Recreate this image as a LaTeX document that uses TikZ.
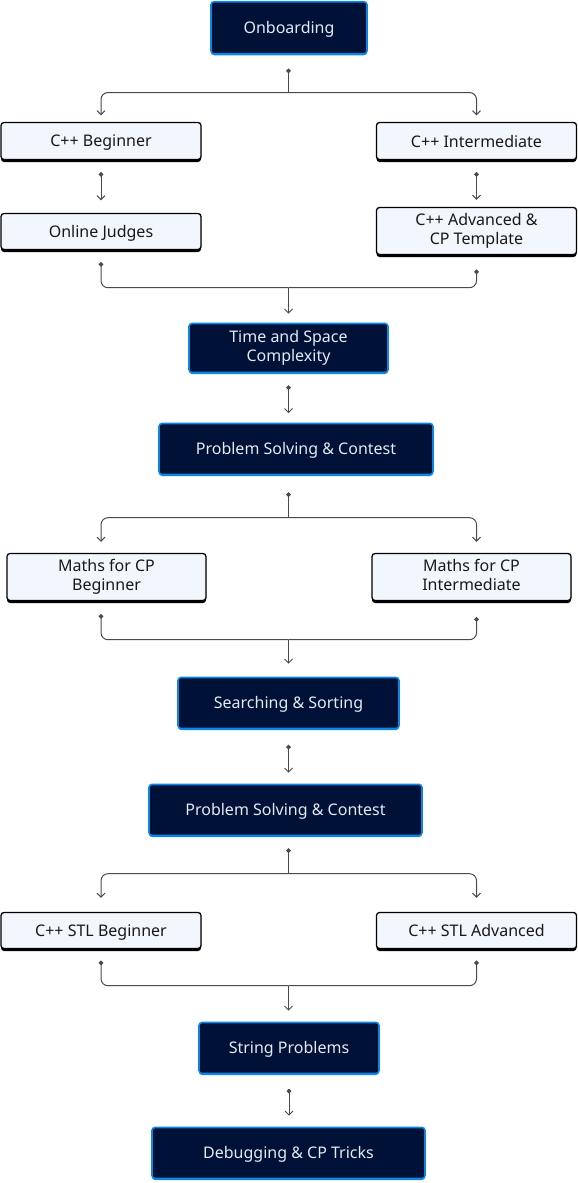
\documentclass[tikz,border=0pt]{standalone}
\usepackage{fontspec}
\setmainfont{Noto Sans}
\usetikzlibrary{arrows.meta,shadows}
\definecolor{navy}{HTML}{001137}
\definecolor{edgeblue}{HTML}{0A86E6}
\definecolor{pale}{HTML}{F2F6FD}
\definecolor{wire}{HTML}{4A4A4A}
\definecolor{paletext}{HTML}{E4E9F2}
\newcommand{\boxstrut}{\rule[-3.5pt]{0pt}{19pt}}

\begin{document}
\begin{tikzpicture}[x=1pt, y=-1pt, font=\fontsize{16}{19}\selectfont,
  every node/.style={execute at begin node=\boxstrut, execute at end node=\boxstrut},
  dark/.style={draw=edgeblue, line width=1.6pt, fill=navy, text=paletext,
    rounded corners=3pt, align=center, inner sep=0pt,
    drop shadow={shadow xshift=0pt, shadow yshift=-1.5pt, fill=edgeblue, opacity=1}},
  light/.style={draw=black, line width=1.3pt, fill=pale, text=black!90,
    rounded corners=3pt, align=center, inner sep=0pt,
    minimum width=200pt,
    drop shadow={shadow xshift=0pt, shadow yshift=-2.5pt, fill=black, opacity=1}},
  feed/.style={draw=wire, line width=1pt, rounded corners=7pt, {Circle[length=4.5pt]}-},
  lead/.style={draw=wire, line width=1pt, rounded corners=7pt, -{Straight Barb[length=4pt,width=8pt]}},
  link/.style={draw=wire, line width=1pt, {Circle[length=4.5pt]}-{Straight Barb[length=4pt,width=8pt]}}]
\useasboundingbox (0,0) rectangle (578,1183);

\coordinate (lcol) at (101,0);
\coordinate (rcol) at (476.5,0);

\node[dark, minimum width=156pt, minimum height=52pt] (onb) at (289,27.75) {Onboarding};
\node[light, minimum height=37pt] (cppb) at (101,141) {C++ Beginner};
\node[light, minimum height=37pt] (cppi) at (476.5,141) {C++ Intermediate};
\node[light, minimum height=36pt] (oj) at (101,231.5) {Online Judges};
\node[light, minimum height=47pt] (cppa) at (476.5,231) {C++ Advanced \&\\CP Template};
\node[dark, minimum width=199pt, minimum height=49pt] (tsc) at (288.5,348) {Time and Space\\Complexity};
\node[dark, minimum width=274pt, minimum height=51pt] (ps1) at (296,449) {Problem Solving \& Contest};
\node[light, minimum width=199pt, minimum height=47pt] (mb) at (106.5,577) {Maths for CP\\Beginner};
\node[light, minimum width=199pt, minimum height=47pt] (mi) at (471.5,577) {Maths for CP\\Intermediate};
\node[dark, minimum width=221pt, minimum height=51pt] (ss) at (288.5,703) {Searching \& Sorting};
\node[dark, minimum width=273pt, minimum height=51pt] (ps2) at (285.5,810) {Problem Solving \& Contest};
\node[light, minimum height=36pt] (stlb) at (101,930.5) {C++ STL Beginner};
\node[light, minimum height=36pt] (stla) at (476.5,930.5) {C++ STL Advanced};
\node[dark, minimum width=180pt, minimum height=51pt] (sp) at (289,1048) {String Problems};
\node[dark, minimum width=273pt, minimum height=51pt] (dbg) at (288.5,1153) {Debugging \& CP Tricks};

\coordinate (s1) at (288.5,92.5);
\coordinate (m1) at (288.5,287.7);
\coordinate (s2) at (288.5,517.7);
\coordinate (m2) at (288.5,639.7);
\coordinate (s3) at (288.5,873.7);
\coordinate (m3) at (288.5,985.7);

\draw[feed, shorten <=14pt] (onb.south -| s1) -- (s1);
\draw[lead, shorten >=6.5pt] (s1) -| (cppb.north);
\draw[lead, shorten >=6.5pt] (s1) -| (cppi.north);
\draw[link, shorten <=12pt, shorten >=12.5pt] (cppb.south) -- (oj.north);
\draw[link, shorten <=12pt, shorten >=7pt] (cppi.south) -- (cppa.north);

\draw[feed, shorten <=12pt] (oj.south) |- (m1);
\draw[feed, shorten <=14.5pt] (cppa.south) |- (m1);
\draw[lead, shorten >=9pt] (m1) -- (tsc.north);
\draw[link, shorten <=12pt, shorten >=9.5pt] (tsc.south) -- (tsc.south |- ps1.north);

\draw[feed, shorten <=17pt] (ps1.south -| s2) -- (s2);
\draw[lead, shorten >=11pt] (s2) -| (lcol |- mb.north);
\draw[lead, shorten >=11pt] (s2) -| (rcol |- mi.north);
\draw[feed, shorten <=13pt] (mb.south -| lcol) |- (m2);
\draw[feed, shorten <=16pt] (mi.south -| rcol) |- (m2);
\draw[lead, shorten >=13pt] (m2) -- (m2 |- ss.north);
\draw[link, shorten <=15.5pt, shorten >=11pt] (ss.south) -- (ss.south |- ps2.north);

\draw[feed, shorten <=12pt] (ps2.south -| s3) -- (s3);
\draw[lead, shorten >=14pt] (s3) -| (stlb.north);
\draw[lead, shorten >=14pt] (s3) -| (stla.north);
\draw[feed, shorten <=11.5pt] (stlb.south) |- (m3);
\draw[feed, shorten <=11.5pt] (stla.south) |- (m3);
\draw[lead, shorten >=11pt] (m3) -- (m3 |- sp.north);
\draw[link, shorten <=14.5pt, shorten >=11pt] (sp.south) -- (sp.south |- dbg.north);
\end{tikzpicture}
\end{document}
